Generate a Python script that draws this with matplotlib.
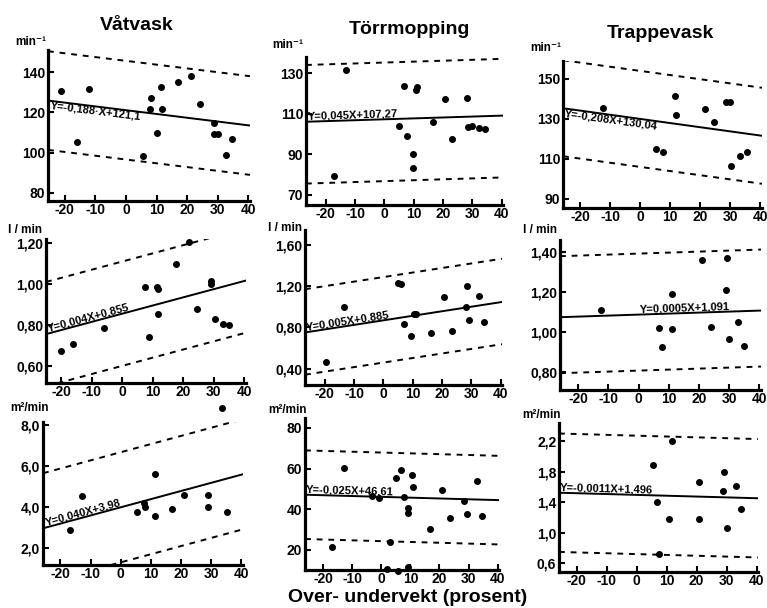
import matplotlib.pyplot as plt
import numpy as np

plt.rcParams['font.family'] = ['Liberation Sans', 'DejaVu Sans']
plt.rcParams['font.weight'] = 'bold'
plt.rcParams['axes.unicode_minus'] = False

# ---- data (lest av figuren) ----
titler = ['Våtvask', 'Törrmopping', 'Trappevask']
enheter = ['min⁻¹', 'l / min', 'm²/min']
x_ticks = [-20, -10, 0, 10, 20, 30, 40]

# rad 1: frekvens (min-1)
vat_frek_x = [-21.3, -16.0, -12.0, 5.5, 7.7, 8.0, 10.1, 11.3, 11.6, 17.0, 21.2, 24.3, 28.6, 28.6, 29.9, 32.6, 34.6]
vat_frek_y = [130.7, 105.1, 131.6, 98.5, 121.5, 127.4, 109.9, 132.7, 121.6, 135.0, 138.0, 124.1, 114.5, 109.1, 109.1, 98.7, 106.9]
torr_frek_x = [-17.3, -13.1, 4.9, 6.6, 7.7, 9.6, 9.6, 10.8, 11.0, 16.5, 20.7, 23.2, 28.2, 28.6, 29.8, 32.3, 34.5]
torr_frek_y = [79.5, 131.8, 103.9, 123.8, 99.0, 90.3, 83.1, 121.6, 123.0, 105.7, 117.4, 97.5, 117.9, 103.6, 103.9, 103.1, 102.3]
trapp_frek_x = [-12.4, 5.3, 7.4, 11.4, 11.9, 21.7, 24.4, 28.6, 29.7, 30.3, 33.3, 35.6]
trapp_frek_y = [135.4, 115.1, 113.7, 141.5, 131.9, 135.2, 128.4, 138.4, 138.4, 106.3, 111.4, 113.6]

# rad 2: l/min
vat_liter_x = [-20.1, -16.0, -6.1, 7.5, 8.6, 11.3, 11.7, 11.6, 17.6, 21.8, 24.4, 29.1, 29.1, 30.4, 33.1, 35.0]
vat_liter_y = [0.673, 0.706, 0.786, 0.984, 0.741, 0.987, 0.974, 0.852, 1.097, 1.203, 0.878, 1.017, 1.0, 0.827, 0.804, 0.798]
torr_liter_x = [-19.7, -13.4, 5.1, 6.0, 7.1, 9.3, 10.6, 11.2, 16.4, 20.8, 23.3, 28.5, 28.3, 29.3, 32.6, 34.4]
torr_liter_y = [0.465, 0.993, 1.227, 1.217, 0.828, 0.714, 0.93, 0.925, 0.747, 1.091, 0.766, 1.204, 1.0, 0.870, 1.107, 0.847]
trapp_liter_x = [-12.6, 6.7, 7.8, 11.1, 11.2, 21.1, 23.9, 29.2, 29.0, 29.9, 32.9, 34.8]
trapp_liter_y = [1.108, 1.018, 0.925, 1.188, 1.013, 1.358, 1.022, 1.367, 1.208, 0.963, 1.05, 0.928]

# rad 3: m2/min
vat_areal_x = [-16.8, -12.8, 5.4, 7.6, 7.9, 11.2, 11.4, 17.1, 21.1, 28.9, 29.0, 33.4, 35.3]
vat_areal_y = [2.86, 4.53, 3.73, 4.2, 3.97, 3.57, 5.60, 3.89, 4.56, 4.58, 3.97, 8.86, 3.74]
torr_areal_x = [-16.9, -13.0, -3.3, -0.7, 2.0, 3.0, 4.9, 5.8, 6.6, 7.8, 9.3, 9.3, 9.3, 10.5, 10.8, 16.8, 20.8, 23.7, 28.5, 29.6, 32.9, 34.8]
torr_areal_y = [21.6, 60.3, 46.3, 45.5, 10.5, 24.1, 55.3, 9.5, 59.5, 45.8, 40.4, 38.1, 11.5, 56.8, 50.9, 30.3, 49.6, 35.6, 44.0, 37.9, 53.7, 36.6]
trapp_areal_x = [5.6, 6.7, 7.4, 10.9, 11.7, 20.9, 20.9, 28.7, 29.2, 30.3, 33.1, 34.9]
trapp_areal_y = [1.89, 1.40, 0.72, 1.18, 2.2, 1.66, 1.18, 1.55, 1.80, 1.06, 1.61, 1.31]

punkter = [(vat_frek_x, vat_frek_y), (torr_frek_x, torr_frek_y), (trapp_frek_x, trapp_frek_y),
           (vat_liter_x, vat_liter_y), (torr_liter_x, torr_liter_y), (trapp_liter_x, trapp_liter_y),
           (vat_areal_x, vat_areal_y), (torr_areal_x, torr_areal_y), (trapp_areal_x, trapp_areal_y)]

# regresjonslinjer og grenser
stigning = [-0.188, 0.045, -0.208, 0.004, 0.0044, 0.0005, 0.040, -0.04, -0.0011]
konstant = [121.1, 107.27, 130.04, 0.855, 0.868, 1.085, 3.98, 46.1, 1.496]
ovre = [24.5, 28.0, 24.0, 0.255, 0.42, 0.305, 2.7, 21.8, 0.78]
nedre = [-24.5, -30.5, -24.0, -0.255, -0.41, -0.28, -2.7, -21.8, -0.78]
likninger = ['Y=-0,188·X+121,1', 'Y=0,045X+107,27', 'Y=-0,208X+130,04',
             'Y=0,004X+0,855', 'Y=0,005X+0,885', 'Y=0,0005X+1,091',
             'Y=0,040X+3,98', 'Y=-0,025X+46,61', 'Y=-0,0011X+1,496']

y_ticks = [[80, 100, 120, 140], [70, 90, 110, 130], [90, 110, 130, 150],
           [0.6, 0.8, 1.0, 1.2], [0.4, 0.8, 1.2, 1.6], [0.8, 1.0, 1.2, 1.4],
           [2, 4, 6, 8], [20, 40, 60, 80], [0.6, 1.0, 1.4, 1.8, 2.2]]
y_tekst = [['80', '100', '120', '140'], ['70', '90', '110', '130'], ['90', '110', '130', '150'],
           ['0,60', '0,80', '1,00', '1,20'], ['0,40', '0,80', '1,20', '1,60'], ['0,80', '1,00', '1,20', '1,40'],
           ['2,0', '4,0', '6,0', '8,0'], ['20', '40', '60', '80'], ['0,6', '1,0', '1,4', '1,8', '2,2']]

# ---- layout ----
xgrenser = [(-25.5, 40.5), (-26.8, 40.5), (-25.7, 40.5),
            (-25.0, 40.5), (-26.8, 40.5), (-26.0, 40.5),
            (-25.8, 40.5), (-26.3, 40.5), (-25.9, 40.5)]
ygrenser = [(76, 151), (65, 138), (85.5, 159),
            (0.516, 1.22), (0.24, 1.745), (0.708, 1.458),
            (1.15, 8.16), (10.1, 84.9), (0.48, 2.443)]
# piksel-bokser: venstre, topp, hoyre, bunn
bokser = [(48, 50, 250, 201), (306, 57, 503, 205), (563, 61, 762, 208),
          (46, 239, 246, 383), (305, 230, 502, 385), (560, 240, 761, 390),
          (43, 422, 243, 565), (305, 418, 499, 570), (559, 423, 758, 572)]
tittel_pos = [(137, 25), (409, 30), (660, 33)]
enhet_pos = [(15, 48), (272, 51), (530, 54),
             (8, 236), (268, 234), (523, 236),
             (10, 414), (268, 416), (522, 421)]
# plassering av likning: start-x og om teksten ligger over/under linja
lik_x = [-24.5, -26.0, -25.0, -24.0, -26.0, 0.5, -24.5, -26.0, -25.5]
lik_va = ['top', 'bottom', 'top', 'bottom', 'bottom', 'bottom', 'bottom', 'bottom', 'bottom']

W, H = 767, 608
fig = plt.figure(figsize=(W / 100, H / 100), dpi=100)

for i in range(9):
    l, t, r, b = bokser[i]
    ax = fig.add_axes([l / W, 1 - b / H, (r - l) / W, (b - t) / H])
    ax.set_xlim(xgrenser[i])
    ax.set_ylim(ygrenser[i])
    for s in ['top', 'right']:
        ax.spines[s].set_visible(False)
    for s in ['left', 'bottom']:
        ax.spines[s].set_linewidth(2.3)
    ax.set_xticks(x_ticks)
    ax.set_xticklabels([str(v) for v in x_ticks])
    ax.set_yticks(y_ticks[i])
    ax.set_yticklabels(y_tekst[i])
    ax.tick_params(direction='in', length=4, width=1.5, labelsize=10, pad=2)
    ax.tick_params(axis='x', pad=1.5)

    xs = np.array(xgrenser[i])
    yl = stigning[i] * xs + konstant[i]
    ax.plot(xs, yl, color='black', lw=1.4)
    ax.plot(xs, yl + ovre[i], color='black', lw=1.4, ls=(0, (3, 3)))
    ax.plot(xs, yl + nedre[i], color='black', lw=1.4, ls=(0, (3, 3)))

    px, py = punkter[i]
    ax.plot(px, py, 'o', color='black', ms=4, clip_on=False)

    # likningstekst langs linja
    x0 = lik_x[i]
    p0 = ax.transData.transform((xs[0], yl[0]))
    p1 = ax.transData.transform((xs[1], yl[1]))
    vinkel = np.degrees(np.arctan2(p1[1] - p0[1], p1[0] - p0[0]))
    ax.text(x0, stigning[i] * x0 + konstant[i], likninger[i], fontsize=8,
            rotation=vinkel, rotation_mode='anchor', ha='left', va=lik_va[i])

    ex, ey = enhet_pos[i]
    fig.text(ex / W, 1 - ey / H, enheter[i // 3], fontsize=8.5, ha='left', va='bottom')

for k in range(3):
    tx, ty = tittel_pos[k]
    fig.text(tx / W, 1 - ty / H, titler[k], fontsize=14, ha='center', va='center')

fig.text(408 / W, 1 - 597 / H, 'Over- undervekt (prosent)', fontsize=14, ha='center', va='center')

fig.savefig('out.png', dpi=100)
